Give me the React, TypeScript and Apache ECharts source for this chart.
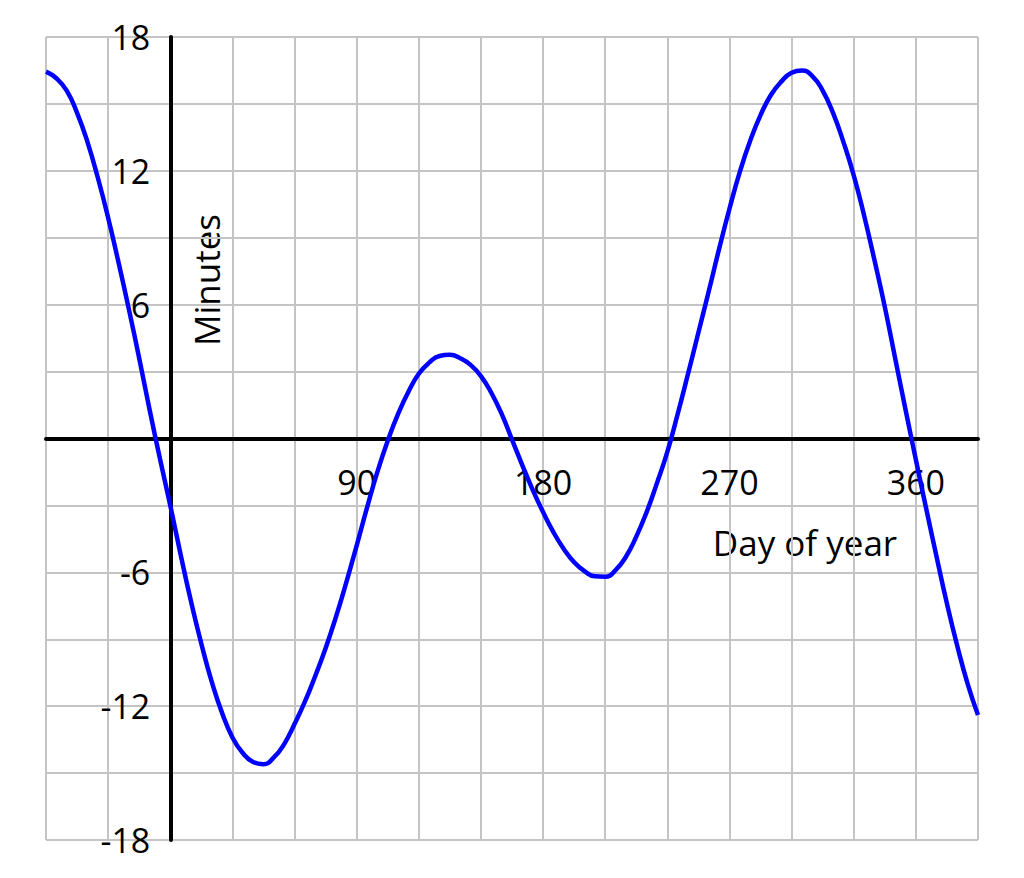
import React, { useEffect, useRef } from "react";
import * as echarts from "echarts";

// Day of year (x) and equation of time in minutes (y)
const days = [
  -60, -55, -50, -45, -40, -35, -30, -25, -20, -15, -10, -5, 0, 5, 10, 15, 20,
  25, 30, 35, 40, 45, 50, 55, 60, 65, 70, 75, 80, 85, 90, 95, 100, 105, 110,
  115, 120, 125, 130, 135, 140, 145, 150, 155, 160, 165, 170, 175, 180, 185,
  190, 195, 200, 205, 210, 215, 220, 225, 230, 235, 240, 245, 250, 255, 260,
  265, 270, 275, 280, 285, 290, 295, 300, 305, 310, 315, 320, 325, 330, 335,
  340, 345, 350, 355, 360, 365, 370, 375, 380, 385, 390,
];
const minutes = [
  16.45, 16.15, 15.6, 14.6, 13.3, 11.7, 9.9, 7.9, 5.8, 3.6, 1.3, -0.9, -3.0,
  -5.2, -7.3, -9.2, -10.9, -12.3, -13.4, -14.1, -14.5, -14.6, -14.3, -13.7,
  -12.8, -11.8, -10.65, -9.4, -8.0, -6.45, -4.8, -3.1, -1.5, -0.1, 1.1, 2.1,
  2.9, 3.4, 3.7, 3.75, 3.6, 3.3, 2.8, 2.05, 1.1, -0.05, -1.2, -2.3, -3.3, -4.2,
  -4.95, -5.55, -5.95, -6.18, -6.2, -5.9, -5.3, -4.4, -3.3, -2.0, -0.6, 1.1,
  2.9, 4.75, 6.6, 8.5, 10.3, 11.95, 13.35, 14.5, 15.4, 16.0, 16.4, 16.5, 16.25,
  15.6, 14.6, 13.3, 11.8, 10.0, 8.0, 5.9, 3.6, 1.3, -0.95, -3.15, -5.3, -7.4,
  -9.3, -11.0, -12.4,
];

const xLabels = [90, 180, 270, 360];
const yLabels = [-18, -12, -6, 6, 12, 18];

const FONT = '"Open Sans", "Noto Sans", sans-serif';

export default function App() {
  const ref = useRef<HTMLDivElement>(null);
  useEffect(() => {
    if (!ref.current) return;
    const chart = echarts.init(ref.current, null, { renderer: "svg" });
    chart.setOption({
      animation: false,
      backgroundColor: "#ffffff",
      grid: {
        left: 46,
        right: 46,
        top: 37,
        bottom: 38,
        containLabel: false,
        outerBoundsMode: "none",
      },
      xAxis: {
        type: "value",
        min: -60,
        max: 390,
        interval: 30,
        offset: -401.5,
        axisLine: { show: true, onZero: false, lineStyle: { color: "#000", width: 4 } },
        axisTick: { show: false },
        splitLine: { show: true, lineStyle: { color: "#c4c4c4", width: 2 } },
        axisLabel: {
          margin: 26,
          fontSize: 34,
          fontFamily: FONT,
          color: "#000",
          showMinLabel: true,
          showMaxLabel: true,
          formatter: (v: number) => (xLabels.includes(v) ? String(v) : ""),
        },
      },
      yAxis: {
        type: "value",
        min: -18,
        max: 18,
        interval: 3,
        offset: -124.3,
        axisLine: { show: true, onZero: false, lineStyle: { color: "#000", width: 4 } },
        axisTick: { show: false },
        splitLine: { show: true, lineStyle: { color: "#c4c4c4", width: 2 } },
        axisLabel: {
          margin: 20,
          fontSize: 34,
          fontFamily: FONT,
          color: "#000",
          verticalAlign: "middle",
          lineHeight: 34,
          padding: [0, 0, 10, 0],
          showMinLabel: true,
          showMaxLabel: true,
          formatter: (v: number) => (yLabels.includes(v) ? String(v) : ""),
        },
      },
      graphic: [
        {
          type: "text",
          x: 206,
          y: 280,
          rotation: Math.PI / 2,
          style: {
            text: "Minutes",
            font: `35px ${FONT}`,
            fill: "#000",
            textAlign: "center",
            textVerticalAlign: "middle",
          },
        },
        {
          type: "text",
          x: 805,
          y: 542,
          style: {
            text: "Day of year",
            font: `35px ${FONT}`,
            fill: "#000",
            textAlign: "center",
            textVerticalAlign: "middle",
          },
        },
      ],
      series: [
        {
          type: "line",
          data: days.map((d, i) => [d, minutes[i]]),
          smooth: 0.5,
          showSymbol: false,
          symbol: "none",
          lineStyle: { color: "#0000ff", width: 4.5 },
          z: 3,
        },
      ],
    });
    return () => chart.dispose();
  }, []);
  return (
    <div
      ref={ref}
      style={{ position: "absolute", left: 0, top: 0, width: 1024, height: 878 }}
    />
  );
}
